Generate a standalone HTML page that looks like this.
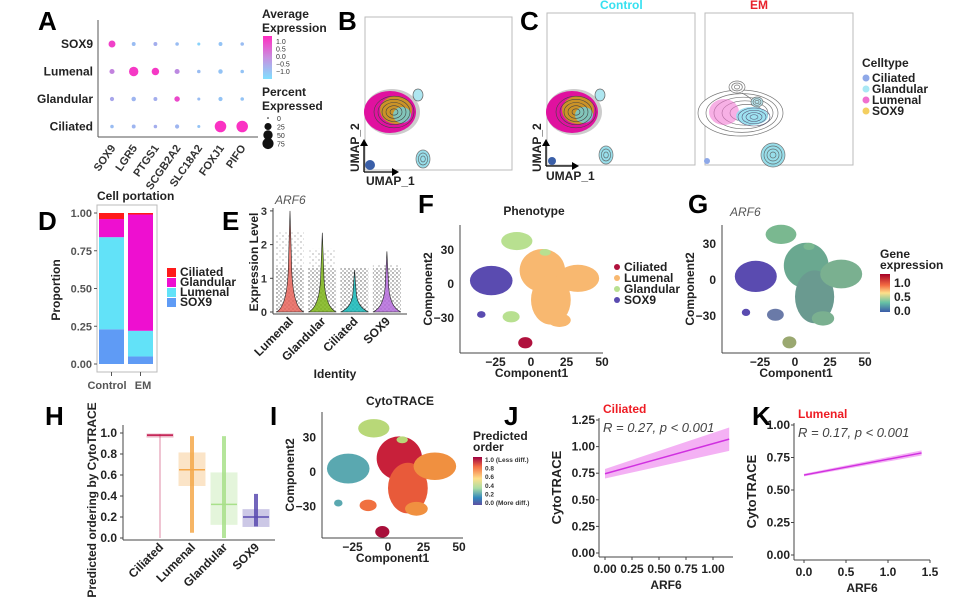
<!DOCTYPE html>
<html><head><meta charset="utf-8"><style>
body{margin:0;background:#fff;}
svg{display:block;font-family:"Liberation Sans",Arial,sans-serif;}
.pl{font-size:26px;font-weight:bold;fill:#000}
.tk{font-size:11px;font-weight:bold;fill:#333}
.tt{font-size:12px;font-weight:bold;fill:#222}
</style></head><body>
<svg id="fig" width="970" height="602" viewBox="0 0 970 602" xmlns="http://www.w3.org/2000/svg">
<defs>
<linearGradient id="gAvg" x1="0" y1="0" x2="0" y2="1"><stop offset="0" stop-color="#ff2bc0"/><stop offset="0.5" stop-color="#c890e0"/><stop offset="1" stop-color="#7fe0ff"/></linearGradient>
<linearGradient id="gSpec" x1="0" y1="0" x2="0" y2="1"><stop offset="0" stop-color="#9e0142"/><stop offset="0.2" stop-color="#f46d43"/><stop offset="0.45" stop-color="#fee08b"/><stop offset="0.65" stop-color="#abdda4"/><stop offset="0.85" stop-color="#3288bd"/><stop offset="1" stop-color="#5e4fa2"/></linearGradient>
<linearGradient id="gGene" x1="0" y1="0" x2="0" y2="1"><stop offset="0" stop-color="#a50026"/><stop offset="0.3" stop-color="#f46d43"/><stop offset="0.5" stop-color="#fee08b"/><stop offset="0.75" stop-color="#66c2a5"/><stop offset="1" stop-color="#3b5ba8"/></linearGradient>
<pattern id="dots" width="4" height="4" patternUnits="userSpaceOnUse"><circle cx="1" cy="1" r="0.7" fill="#111"/><circle cx="3" cy="3" r="0.6" fill="#111"/></pattern>
<pattern id="dotsSparse" width="6" height="6" patternUnits="userSpaceOnUse"><circle cx="1" cy="2" r="0.6" fill="#222"/><circle cx="4" cy="5" r="0.5" fill="#222"/></pattern>
</defs>
<g id="root"></g>
</svg>
<script>
// ---------- data ----------
var dotGenes=["SOX9","LGR5","PTGS1","SCGB2A2","SLC18A2","FOXJ1","PIFO"];
var dotTypes=["SOX9","Lumenal","Glandular","Ciliated"];
var dotPct=[[20,3,3,2,1,3,2],[8,45,25,8,2,5,2],[4,5,3,10,1,4,2],[2,3,2,4,1,75,75]];
var dotAvg=[[1.2,-0.5,-0.3,-0.5,-0.8,-0.6,-0.5],[0.3,1.3,1.3,0.2,-0.5,-0.6,-0.6],[-0.2,-0.4,-0.3,1.1,-0.5,-0.6,-0.6],[-0.5,-0.4,-0.3,-0.4,-0.6,1.4,1.4]];
var propGroups=["Control","EM"];
var propSOX9=[0.23,0.05];
var propLumenal=[0.61,0.17];
var propGlandular=[0.12,0.77];
var propCiliated=[0.04,0.01];
var violinCats=["Lumenal","Glandular","Ciliated","SOX9"];
var violinMax=[3.0,2.35,1.25,1.8];
var hCats=["Ciliated","Lumenal","Glandular","SOX9"];
var hQ1=[0.965,0.50,0.13,0.11];
var hMed=[0.98,0.65,0.32,0.20];
var hQ3=[0.99,0.81,0.62,0.27];
var hMin=[0.0,0.05,0.0,0.11];
var hMax=[0.99,0.97,0.97,0.42];
var jX=[0,1.15];var jY=[0.745,1.07];var jLo=[0.70,0.96];var jHi=[0.79,1.18];
var kX=[0,1.4];var kY=[0.615,0.785];var kLo=[0.605,0.765];var kHi=[0.625,0.805];
var jTicksX=[0,0.25,0.5,0.75,1.0];var jTicksY=[0,0.25,0.5,0.75,1.0,1.25];
var kTicksX=[0,0.5,1.0,1.5];var kTicksY=[0,0.25,0.5,0.75,1.0];

// ---------- helpers ----------
var NS="http://www.w3.org/2000/svg";var root=document.getElementById("root");
function el(tag,at,parent,txt){var e=document.createElementNS(NS,tag);for(var k in at)e.setAttribute(k,at[k]);if(txt!==undefined)e.textContent=txt;(parent||root).appendChild(e);return e;}
function txt(x,y,s,cls,extra,name){var a={x:x,y:y};if(cls)a["class"]=cls;for(var k in extra||{})a[k]=extra[k];var t=el("text",a,null,s);

return t;}
function line(x1,y1,x2,y2,c,w){return el("line",{x1:x1,y1:y1,x2:x2,y2:y2,stroke:c||"#444","stroke-width":w||1});}
function panel(x,y,s){txt(x,y,s,"pl",{},"panel-label-"+s.toLowerCase());}
function fmt2(v){return v.toFixed(2);}
function avgCol(v){var t=(v+1)/2.5;t=Math.max(0,Math.min(1,t));var r=Math.round(127+128*t),g=Math.round(224-181*t),b=Math.round(255-63*t);return "rgb("+r+","+g+","+b+")";}

// ---------- A dot plot ----------
panel(38,30,"A");
var ax0=98,axB=137,colX=function(i){return 112+i*21.7;},rowY=function(i){return 44+i*27.5;};
line(ax0,20,ax0,axB,"#555");line(ax0,axB,258,axB,"#555");
dotTypes.forEach(function(t,i){txt(93,rowY(i)+4,t,"tt",{"text-anchor":"end"},"y-label-"+t.toLowerCase());});
dotGenes.forEach(function(g,j){txt(colX(j)+4,148,g,"tk",{"text-anchor":"end",transform:"rotate(-55 "+(colX(j)+4)+" 148)"},"x-label-"+g.toLowerCase());
 dotTypes.forEach(function(t,i){var r=1+Math.sqrt(dotPct[i][j])*0.55;var c=el("circle",{cx:colX(j),cy:rowY(i),r:r,fill:avgCol(dotAvg[i][j])});
 
 });});
txt(262,18,"Average","tt",{},"legend-title");txt(262,32,"Expression","tt",{},"legend-title");
el("rect",{x:263,y:36,width:9,height:43,fill:"url(#gAvg)"});
["1.0","0.5","0.0","\u22120.5","\u22121.0"].forEach(function(s,i){txt(276,44+i*7.5,s,"",{"font-size":"7px",fill:"#333"},"legend-tick");});
txt(262,96,"Percent","tt",{},"legend-title");txt(262,110,"Expressed","tt",{},"legend-title");
[0,25,50,75].forEach(function(p,i){el("circle",{cx:268,cy:118+i*8.5,r:0.8+Math.sqrt(p)*0.55,fill:"#111"});txt(277,121+i*8.5,String(p),"",{"font-size":"7px",fill:"#333"},"size-legend-"+p);});

// ---------- UMAP panels ----------
function umapBox(x,y,w,h,name){var r=el("rect",{x:x,y:y,width:w,height:h,fill:"#fff",stroke:"#bbb","stroke-width":1});}
function contours(cx,cy,rx,ry,n,fill){for(var i=n;i>=1;i--){el("ellipse",{cx:cx,cy:cy,rx:rx*i/n,ry:ry*i/n,fill:i==n?fill:"none",stroke:"#555","stroke-width":0.7,opacity:0.8});}}
function ctrlBlob(cx,cy){
  el("ellipse",{cx:cx+2,cy:cy,rx:28,ry:23,fill:"#999",opacity:0.5});
  el("ellipse",{cx:cx,cy:cy,rx:26,ry:21,fill:"#e0119f"});el("ellipse",{cx:cx+6,cy:cy-2,rx:16,ry:14,fill:"#c9a21a",opacity:0.9});
  el("ellipse",{cx:cx+12,cy:cy+3,rx:9,ry:8,fill:"#6fd2e0",opacity:0.8});
  for(var i=1;i<6;i++)el("ellipse",{cx:cx+4,cy:cy,rx:24*i/6,ry:19*i/6,fill:"none",stroke:"#444","stroke-width":0.6});
  el("ellipse",{cx:cx+28,cy:cy-17,rx:5,ry:6,fill:"#aee6f0",stroke:"#666","stroke-width":0.7});}
panel(338,30,"B");umapBox(365,17,147,153,"umap-combined-plot");
ctrlBlob(390,112);contours(423,159,7,9,3,"#7fd6e6");el("circle",{cx:370,cy:165,r:5,fill:"#3a5fa8"});
el("path",{d:"M364 172 V142 M364 172 H395",stroke:"#000","stroke-width":1.3,fill:"none"});
el("path",{d:"M360 146 L364 139 L368 146Z M392 168 L399 172 L392 176Z",fill:"#000"});
txt(359,172,"UMAP_2","tt",{transform:"rotate(-90 359 172)"},"umap-y-title");txt(366,185,"UMAP_1","tt",{},"umap-x-title");
panel(520,30,"C");
txt(600,9,"Control","tt",{style:"fill:#36e0f0"},"control-title");txt(750,9,"EM","tt",{style:"fill:#e8202a"},"em-title");
umapBox(547,13,148,152,"umap-control-plot");umapBox(705,13,148,152,"umap-em-plot");
ctrlBlob(572,112);contours(606,155,7,9,3,"#7fd6e6");el("circle",{cx:552,cy:161,r:4,fill:"#3a5fa8"});
el("path",{d:"M546 166 V142 M546 166 H575",stroke:"#000","stroke-width":1.3,fill:"none"});
el("path",{d:"M542 146 L546 139 L550 146Z M572 162 L579 166 L572 170Z",fill:"#000"});
txt(541,172,"UMAP_2","tt",{transform:"rotate(-90 541 172)"},"umap-y-title-c");txt(546,180,"UMAP_1","tt",{},"umap-x-title-c");
// EM blob
for(var i=5;i>=1;i--){el("ellipse",{cx:748-i*1.5,cy:113,rx:10+i*6.5,ry:5+i*3.6,fill:i==5?"#fff":"none",stroke:"#777","stroke-width":0.7});}
el("ellipse",{cx:724,cy:112,rx:15,ry:13,fill:"#f070d0",opacity:0.55});
el("ellipse",{cx:752,cy:116,rx:16,ry:9,fill:"#93dff0",opacity:0.9});
for(var j=1;j<5;j++)el("ellipse",{cx:754,cy:117,rx:16*j/4,ry:9*j/4,fill:"none",stroke:"#557","stroke-width":0.6});
contours(757,102,6,5,3,"#aee6f0");contours(737,87,8,6,3,"#fff");
el("path",{d:"M742 93 Q748 96 752 100",stroke:"#777","stroke-width":0.7,fill:"none"});
contours(773,155,12,12,4,"#7fd6e6");el("circle",{cx:707,cy:161,r:3,fill:"#8ea8e8"});
txt(862,67,"Celltype","tt",{},"celltype-legend-title");
[["Ciliated","#8ea8e8"],["Glandular","#a8e8f4"],["Lumenal","#f070d0"],["SOX9","#f4cf60"]].forEach(function(d,i){el("circle",{cx:866,cy:78+i*11,r:3.5,fill:d[1]});txt(872,82+i*11,d[0],"tt",{},"celltype-legend-"+d[0].toLowerCase());});

// ---------- D stacked bars ----------
panel(38,230,"D");txt(97,200,"Cell portation","tt",{},"d-title");
el("rect",{x:97,y:205,width:60,height:167,fill:"#fff",stroke:"#bbb"});
var dY=function(v){return 364-v*151;};
[0,0.25,0.5,0.75,1].forEach(function(v){line(94,dY(v),97,dY(v),"#555");txt(92,dY(v)+4,fmt2(v),"tk",{"text-anchor":"end",style:"fill:#555"},"d-y-tick");});
txt(60,290,"Proportion","tt",{transform:"rotate(-90 60 290)","text-anchor":"middle"},"d-y-title");
var dLabX=[107,143];
propGroups.forEach(function(g,i){var x=99+i*29,cum=0;[[propSOX9,"#5f9bf5","sox9"],[propLumenal,"#62e2f8","lumenal"],[propGlandular,"#ee0fd0","glandular"],[propCiliated,"#ff1a1a","ciliated"]].forEach(function(s){var v=s[0][i];var r=el("rect",{x:x,y:dY(cum+v),width:25,height:v*151,fill:s[1]});
 cum+=v;});
 line(x+12.5,372,x+12.5,376,"#555");txt(dLabX[i],389,g,"tk",{"text-anchor":"middle",style:"fill:#555;font-size:11px"},"d-x-label-"+g.toLowerCase());});
[["Ciliated","#ff1a1a"],["Glandular","#ee0fd0"],["Lumenal","#62e2f8"],["SOX9","#5f9bf5"]].forEach(function(d,i){el("rect",{x:167,y:268+i*10,width:9,height:9,fill:d[1]});txt(180,276+i*10,d[0],"tt",{},"d-legend-"+d[0].toLowerCase());});

// ---------- E violins ----------
panel(222,230,"E");txt(275,204,"ARF6","",{style:"font-style:italic;font-size:12px;fill:#555"},"e-title");
var eY=function(v){return 312-v*33.7;},eX=function(i){return 290+i*32.3;};
line(273,208,273,314);line(273,314,407,314);
[0,1,2,3].forEach(function(v){line(270,eY(v),273,eY(v));txt(267,eY(v)+4,String(v),"tk",{"text-anchor":"end"},"e-y-tick");});
txt(258,262,"Expression Level","tt",{transform:"rotate(-90 258 262)","text-anchor":"middle"},"e-y-title");
var vcol=["#e8645a","#7cb518","#14b8b8","#b56bdc"];
violinCats.forEach(function(c,i){var x=eX(i);
 el("rect",{x:x-14,y:eY(1.3),width:28,height:eY(0)-eY(1.3),fill:"url(#dots)",opacity:0.75});
 el("rect",{x:x-14,y:eY(violinMax[i]*0.8),width:28,height:eY(1.3)-eY(violinMax[i]*0.8),fill:"url(#dotsSparse)",opacity:0.6});
 var top=eY(violinMax[i]);var v=el("path",{d:"M"+(x-14)+" "+eY(0)+" Q"+(x-2)+" "+eY(0.15)+" "+(x-1.5)+" "+eY(violinMax[i]*0.5)+" L"+x+" "+top+" L"+(x+1.5)+" "+eY(violinMax[i]*0.5)+" Q"+(x+2)+" "+eY(0.15)+" "+(x+14)+" "+eY(0)+"Z",fill:vcol[i],stroke:"#222","stroke-width":0.6,"fill-opacity":0.85});
 
 txt(x+4,322,c,"tt",{"text-anchor":"end",transform:"rotate(-45 "+(x+4)+" 322)"},"e-x-label-"+c.toLowerCase());});
txt(335,378,"Identity","tt",{"text-anchor":"middle"},"e-x-title");

// ---------- tSNE-like panels ----------
function tsne(ox,oy,sx,sy,cols,name){ // sox9, lum-top, lum-mid, lum-right, glan-top, glan-small, ciliated
 var X=function(v){return ox+v*sx},Y=function(v){return oy-v*sy};
 var g=el("g",{});
 el("ellipse",{cx:X(-28),cy:Y(3),rx:15*sx,ry:13*sy,fill:cols[0]},g);
 el("ellipse",{cx:X(-35),cy:Y(-27),rx:3*sx,ry:3*sy,fill:cols[0]},g);
 el("ellipse",{cx:X(8),cy:Y(12),rx:16*sx,ry:19*sy,fill:cols[1]},g);
 el("ellipse",{cx:X(14),cy:Y(-14),rx:14*sx,ry:22*sy,fill:cols[2]},g);
 el("ellipse",{cx:X(33),cy:Y(5),rx:15*sx,ry:12*sy,fill:cols[3]},g);
 el("ellipse",{cx:X(20),cy:Y(-32),rx:8*sx,ry:6*sy,fill:cols[3]},g);
 el("ellipse",{cx:X(-10),cy:Y(38),rx:11*sx,ry:8*sy,fill:cols[4]},g);
 el("ellipse",{cx:X(10),cy:Y(28),rx:4*sx,ry:3*sy,fill:cols[4]},g);
 el("ellipse",{cx:X(-14),cy:Y(-29),rx:6*sx,ry:5*sy,fill:cols[5]},g);
 el("ellipse",{cx:X(-4),cy:Y(-52),rx:5*sx,ry:5*sy,fill:cols[6]},g);
}
function tsneAxes(ox,oy,sx,sy,x0,x1,yb,yt,pref){
 line(x0,yt,x0,yb);line(x0,yb,x1,yb);
 [-25,0,25,50].forEach(function(v){txt(ox+v*sx,yb+13,String(v).replace("-","\u2212"),"tt",{"text-anchor":"middle"},pref+"-x-tick");});
 [30,0,-30].forEach(function(v){txt(x0-6,oy-v*sy+4,String(v).replace("-","\u2212"),"tt",{"text-anchor":"end"},pref+"-y-tick");});
 txt((x0+x1)/2,yb+24,"Component1","tt",{"text-anchor":"middle"},pref+"-x-title");
 txt(x0-28,(yt+yb)/2,"Component2","tt",{transform:"rotate(-90 "+(x0-28)+" "+((yt+yb)/2)+")","text-anchor":"middle"},pref+"-y-title");}
panel(418,213,"F");txt(534,215,"Phenotype","tt",{"text-anchor":"middle"},"f-title");
tsne(531,284,1.42,1.13,["#5a4bb0","#f8b870","#f8b870","#f8b870","#b8e090","#b8e090","#b0113d"],"f-scatter");
tsneAxes(531,284,1.42,1.13,460,603,353,225,"f");
[["Ciliated","#b0113d"],["Lumenal","#f8b870"],["Glandular","#b8e090"],["SOX9","#5a4bb0"]].forEach(function(d,i){el("circle",{cx:617,cy:267+i*11,r:3,fill:d[1]});txt(624,271+i*11,d[0],"tt",{},"f-legend-"+d[0].toLowerCase());});
panel(688,213,"G");txt(730,216,"ARF6","",{style:"font-style:italic;font-size:12px;fill:#555"},"g-title");
tsne(795,280,1.4,1.2,["#5a4bb0","#6aa890","#6a9a90","#7ab090","#7ab890","#6a7aa8","#9aa870"],"g-scatter");
tsneAxes(795,280,1.4,1.2,722,870,353,225,"g");
txt(880,258,"Gene","tt",{},"g-legend-title");txt(880,269,"expression","tt",{},"g-legend-title");
el("rect",{x:880,y:274,width:10,height:38,fill:"url(#gGene)"});
[["1.0",283],["0.5",297],["0.0",311]].forEach(function(d){txt(894,d[1]+4,d[0],"tt",{},"g-legend-tick");});

// ---------- H boxplot ----------
panel(45,425,"H");
var hY=function(v){return 538-v*105;},hX=function(i){return 160+i*32;};
line(123,425,123,540);line(123,540,275,540);
[0,0.2,0.4,0.6,0.8,1.0].forEach(function(v){line(120,hY(v),123,hY(v));txt(117,hY(v)+4,v.toFixed(1),"tt",{"text-anchor":"end"},"h-y-tick");});
txt(96,500,"Predicted ordering by CytoTRACE","tt",{transform:"rotate(-90 96 500)","text-anchor":"middle"},"h-y-title");
var hc=["#c0144a","#f5a84a","#a8e08a","#5a4bb0"];
hCats.forEach(function(c,i){var x=hX(i);
 el("rect",{x:x-(i==0?1:2),y:hY(hMax[i]),width:i==0?2:4,height:hY(hMin[i])-hY(hMax[i]),fill:hc[i],opacity:i==0?0.25:0.85});
 var b=el("rect",{x:x-13,y:hY(hQ3[i]),width:26,height:Math.max(3,hY(hQ1[i])-hY(hQ3[i])),fill:hc[i],opacity:0.3,stroke:hc[i]});
 
 line(x-13,hY(hMed[i]),x+13,hY(hMed[i]),hc[i],1.5);
 txt(x+4,548,c,"tt",{"text-anchor":"end",transform:"rotate(-45 "+(x+4)+" 548)"},"h-x-label-"+c.toLowerCase());});

// ---------- I ----------
panel(270,425,"I");txt(400,405,"CytoTRACE","tt",{"text-anchor":"middle"},"i-title");
tsne(388,472,1.42,1.15,["#5aa8b0","#c8203a","#e85a3a","#f09040","#b8d878","#f07040","#a80f3a"],"i-scatter");
tsneAxes(388,472,1.42,1.15,322,463,538,412,"i");
txt(473,440,"Predicted","tt",{},"i-legend-title");txt(473,451,"order","tt",{},"i-legend-title");
el("rect",{x:473,y:457,width:9,height:48,fill:"url(#gSpec)"});
["1.0 (Less diff.)","0.8","0.6","0.4","0.2","0.0 (More diff.)"].forEach(function(s,i){txt(485,462+i*8.6,s,"",{style:"font-size:6.5px;font-weight:bold;fill:#333"},"i-legend-tick");});

// ---------- J & K regression ----------
function reg(o){
 var X=function(v){return o.px0+v*o.pxu;},Y=function(v){return o.py0-v*o.pyu;};
 line(o.x0,o.yt,o.x0,o.yb);line(o.x0,o.yb,o.x1,o.yb);
 o.tx.forEach(function(v){line(X(v),o.yb,X(v),o.yb+3);txt(X(v),o.yb+16,v.toFixed(o.dec),"tt",{"text-anchor":"middle",style:"font-size:12px"},o.name+"-x-tick");});
 o.ty.forEach(function(v){line(o.x0-3,Y(v),o.x0,Y(v));txt(o.x0-4,Y(v)+4,v.toFixed(2),"tt",{"text-anchor":"end",style:"font-size:12px"},o.name+"-y-tick");});
 var xs=o.xs,hi=o.hi,lo=o.lo,ys=o.ys;
 var band=el("path",{d:"M"+X(xs[0])+" "+Y(hi[0])+" L"+X(xs[1])+" "+Y(hi[1])+" L"+X(xs[1])+" "+Y(lo[1])+" L"+X(xs[0])+" "+Y(lo[0])+"Z",fill:"#f090f0",opacity:0.7});
 
 var l=el("line",{x1:X(xs[0]),y1:Y(ys[0]),x2:X(xs[1]),y2:Y(ys[1]),stroke:"#d030e0","stroke-width":1.5});
 
 txt(o.x0+4,o.yt-5,o.title,"tt",{style:"fill:#ee1c24"},o.name+"-title");
 txt(o.x0+4,o.yt+14,o.rtxt,"",{style:"font-style:italic;font-size:13px;fill:#444"},o.name+"-stat");
 txt((o.x0+o.x1)/2,o.yb+32,"ARF6","tt",{"text-anchor":"middle"},o.name+"-x-title");
 txt(o.x0-38,(o.yt+o.yb)/2,"CytoTRACE","tt",{transform:"rotate(-90 "+(o.x0-38)+" "+((o.yt+o.yb)/2)+")","text-anchor":"middle",style:"font-size:13px"},o.name+"-y-title");}
panel(504,425,"J");
reg({x0:599,x1:733,yt:418,yb:557,px0:605,pxu:108,py0:553,pyu:106.4,xs:jX,ys:jY,lo:jLo,hi:jHi,tx:jTicksX,ty:jTicksY,dec:2,name:"j",title:"Ciliated",rtxt:"R = 0.27, p < 0.001"});
panel(752,425,"K");
reg({x0:794,x1:930,yt:423,yb:560,px0:804,pxu:84,py0:555,pyu:130,xs:kX,ys:kY,lo:kLo,hi:kHi,tx:kTicksX,ty:kTicksY,dec:1,name:"k",title:"Lumenal",rtxt:"R = 0.17, p < 0.001"});
</script>
</body></html>
